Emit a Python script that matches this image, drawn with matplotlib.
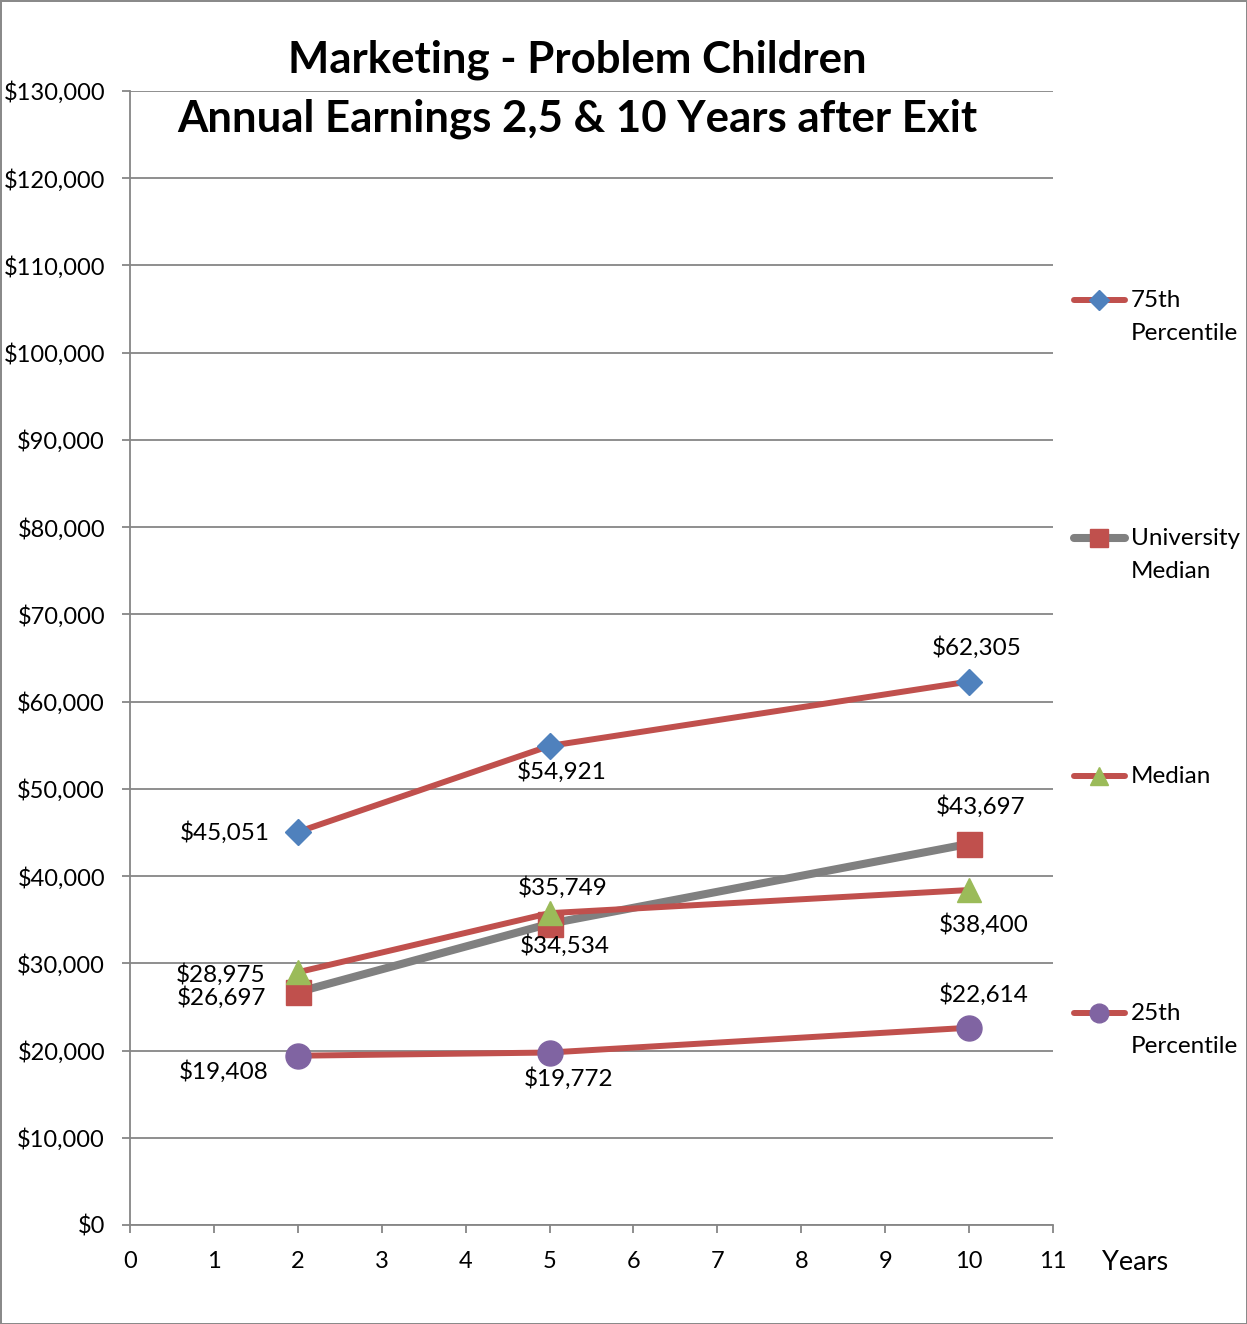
import matplotlib
matplotlib.use("Agg")
import matplotlib.pyplot as plt
from matplotlib.lines import Line2D
from matplotlib.ticker import FuncFormatter

plt.rcParams['font.family'] = ['Lato', 'DejaVu Sans']

years = [2, 5, 10]
p75 = [45051, 54921, 62305]
univ_median = [26697, 34534, 43697]
median = [28975, 35749, 38400]
p25 = [19408, 19772, 22614]

series_names = ["75th\nPercentile", "University\nMedian", "Median", "25th\nPercentile"]

RED = '#C0504D'
BLUE = '#4F81BD'
GRAY = '#808080'
GREEN = '#9BBB59'
PURPLE = '#8064A2'
GRID = '#868686'

fig = plt.figure(figsize=(12.47, 13.24), dpi=100)
fig.patch.set_edgecolor('#8a8a8a')
fig.patch.set_linewidth(2)
ax = fig.add_axes([130/1247, 99/1324, 923/1247, 1134/1324])

ax.set_xlim(0, 11)
ax.set_ylim(0, 130000)
ax.set_xticks(range(0, 12))
ax.set_yticks(range(0, 130001, 10000))
ax.yaxis.set_major_formatter(FuncFormatter(lambda v, p: f"${int(v):,}"))
ax.grid(axis='y', color=GRID, linewidth=1.3)
ax.set_axisbelow(True)
for s in ['top', 'right']:
    ax.spines[s].set_visible(False)
for s in ['left', 'bottom']:
    ax.spines[s].set_color(GRID)
    ax.spines[s].set_linewidth(1.3)
ax.tick_params(axis='both', direction='out', length=6, color=GRID, width=1.3,
               labelsize=17)
ax.tick_params(axis='x', pad=13)
ax.tick_params(axis='y', pad=12)

specs = [
    (p75, RED, 4.3, 'D', 13, BLUE),
    (univ_median, GRAY, 5.8, 's', 18, RED),
    (median, RED, 4.3, '^', 17, GREEN),
    (p25, RED, 4.3, 'o', 18, PURPLE),
]
for vals, lc, lw, mk, ms, mc in specs:
    ax.plot(years, vals, color=lc, linewidth=lw, marker=mk, markersize=ms,
            markerfacecolor=mc, markeredgecolor=mc, solid_capstyle='round')

# data labels: (series, index, dx px, dy px)
offsets = {
    0: [(-73, 0), (12, -26), (8, 34)],
    1: [(-76, -5), (15, -22), (11, 37)],
    2: [(-77, -2), (13, 26), (15, -34)],
    3: [(-74, -16), (19, -26), (15, 33)],
}
allvals = [p75, univ_median, median, p25]
for si, vals in enumerate(allvals):
    for i, (x, v) in enumerate(zip(years, vals)):
        dx, dy = offsets[si][i]
        ax.annotate(f"${v:,}", (x, v), xytext=(dx, dy), textcoords='offset pixels',
                    ha='center', va='center', fontsize=17.5)

# title
fig.text(577/1247, 1 - 60/1324, "Marketing - Problem Children", ha='center', va='center',
         fontsize=31.5, fontweight='bold')
fig.text(577/1247, 1 - 119/1324, "Annual Earnings 2,5 & 10 Years after Exit", ha='center',
         va='center', fontsize=31.5, fontweight='bold')

# axis title
fig.text(1135/1247, 1 - 1262/1324, "Years", ha='center', va='center', fontsize=19.5)

# legend (manual)
leg_y = [300, 538, 776, 1013]
for (vals, lc, lw, mk, ms, mc), name, yy in zip(specs, series_names, leg_y):
    yf = 1 - yy / 1324
    fig.add_artist(Line2D([1074/1247, 1125/1247], [yf, yf], transform=fig.transFigure,
                          color=lc, linewidth=lw, solid_capstyle='round'))
    fig.add_artist(Line2D([1099/1247], [yf], transform=fig.transFigure, marker=mk,
                          markersize=ms * 0.75, color=mc, linestyle='none'))
    fig.text(1131/1247, yf + 10/1324, name, ha='left', va='top', fontsize=17.5,
             linespacing=1.7)

fig.savefig("out.png", dpi=100)
